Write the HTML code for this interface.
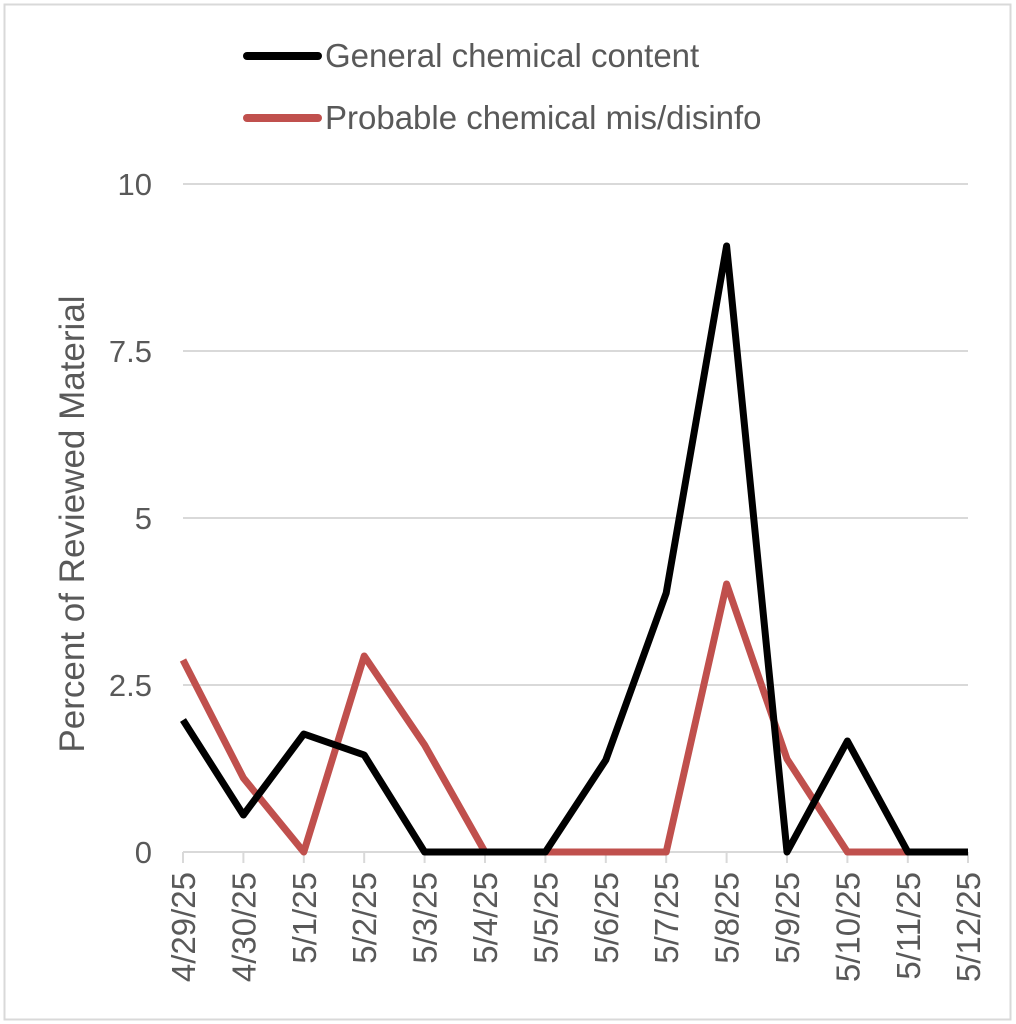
<!DOCTYPE html>
<html><head><meta charset="utf-8"><style>
html,body{margin:0;padding:0;background:#fff;}
svg{display:block;font-family:"Liberation Sans",Arial,sans-serif;}
</style></head><body>
<svg width="1016" height="1024" viewBox="0 0 1016 1024" xmlns="http://www.w3.org/2000/svg">
<rect x="4.5" y="4.5" width="1006" height="1015" fill="#fff" stroke="#d9d9d9" stroke-width="2"/>
<g stroke="#d9d9d9" stroke-width="2">
<line x1="183" y1="184" x2="968" y2="184"/>
<line x1="183" y1="351" x2="968" y2="351"/>
<line x1="183" y1="518" x2="968" y2="518"/>
<line x1="183" y1="685" x2="968" y2="685"/>
<line x1="183" y1="852" x2="968" y2="852"/>
<line x1="183" y1="852" x2="183" y2="863"/><line x1="243.4" y1="852" x2="243.4" y2="863"/><line x1="303.8" y1="852" x2="303.8" y2="863"/><line x1="364.2" y1="852" x2="364.2" y2="863"/><line x1="424.6" y1="852" x2="424.6" y2="863"/><line x1="485" y1="852" x2="485" y2="863"/><line x1="545.4" y1="852" x2="545.4" y2="863"/><line x1="605.8" y1="852" x2="605.8" y2="863"/><line x1="666.2" y1="852" x2="666.2" y2="863"/><line x1="726.6" y1="852" x2="726.6" y2="863"/><line x1="787" y1="852" x2="787" y2="863"/><line x1="847.4" y1="852" x2="847.4" y2="863"/><line x1="907.8" y1="852" x2="907.8" y2="863"/><line x1="968" y1="852" x2="968" y2="863"/>
</g>
<g fill="#595959" font-size="31" text-anchor="end">
<text x="152" y="195">10</text>
<text x="152" y="362">7.5</text>
<text x="152" y="529">5</text>
<text x="152" y="696">2.5</text>
<text x="152" y="863">0</text>
</g>
<text transform="translate(84,524) rotate(-90)" fill="#595959" font-size="35" text-anchor="middle">Percent of Reviewed Material</text>
<g fill="#595959" font-size="33" text-anchor="end">
<text transform="translate(195,872) rotate(-90)">4/29/25</text>
<text transform="translate(255.4,872) rotate(-90)">4/30/25</text>
<text transform="translate(315.8,872) rotate(-90)">5/1/25</text>
<text transform="translate(376.2,872) rotate(-90)">5/2/25</text>
<text transform="translate(436.6,872) rotate(-90)">5/3/25</text>
<text transform="translate(497,872) rotate(-90)">5/4/25</text>
<text transform="translate(557.4,872) rotate(-90)">5/5/25</text>
<text transform="translate(617.8,872) rotate(-90)">5/6/25</text>
<text transform="translate(678.2,872) rotate(-90)">5/7/25</text>
<text transform="translate(738.6,872) rotate(-90)">5/8/25</text>
<text transform="translate(799,872) rotate(-90)">5/9/25</text>
<text transform="translate(859.4,872) rotate(-90)">5/10/25</text>
<text transform="translate(919.8,872) rotate(-90)">5/11/25</text>
<text transform="translate(980,872) rotate(-90)">5/12/25</text>
</g>
<polyline fill="none" stroke="#c0504d" stroke-width="7" stroke-linejoin="round" points="183,660 243.4,778 303.8,852 364.2,656 424.6,745 485,852 545.4,852 605.8,852 666.2,852 726.6,584 787,759 847.4,852 907.8,852 968,852"/>
<polyline fill="none" stroke="#000" stroke-width="7" stroke-linejoin="round" points="183,720 243.4,815 303.8,734 364.2,755 424.6,852 485,852 545.4,852 605.8,760 666.2,593 726.6,246 787,852 847.4,741 907.8,852 968,852"/>
<line x1="247" y1="56" x2="318" y2="56" stroke="#000" stroke-width="8" stroke-linecap="round"/>
<line x1="247" y1="118" x2="318" y2="118" stroke="#c0504d" stroke-width="8" stroke-linecap="round"/>
<g fill="#595959" font-size="33">
<text x="325" y="67">General chemical content</text>
<text x="325" y="129">Probable chemical mis/disinfo</text>
</g>
</svg>
</body></html>
